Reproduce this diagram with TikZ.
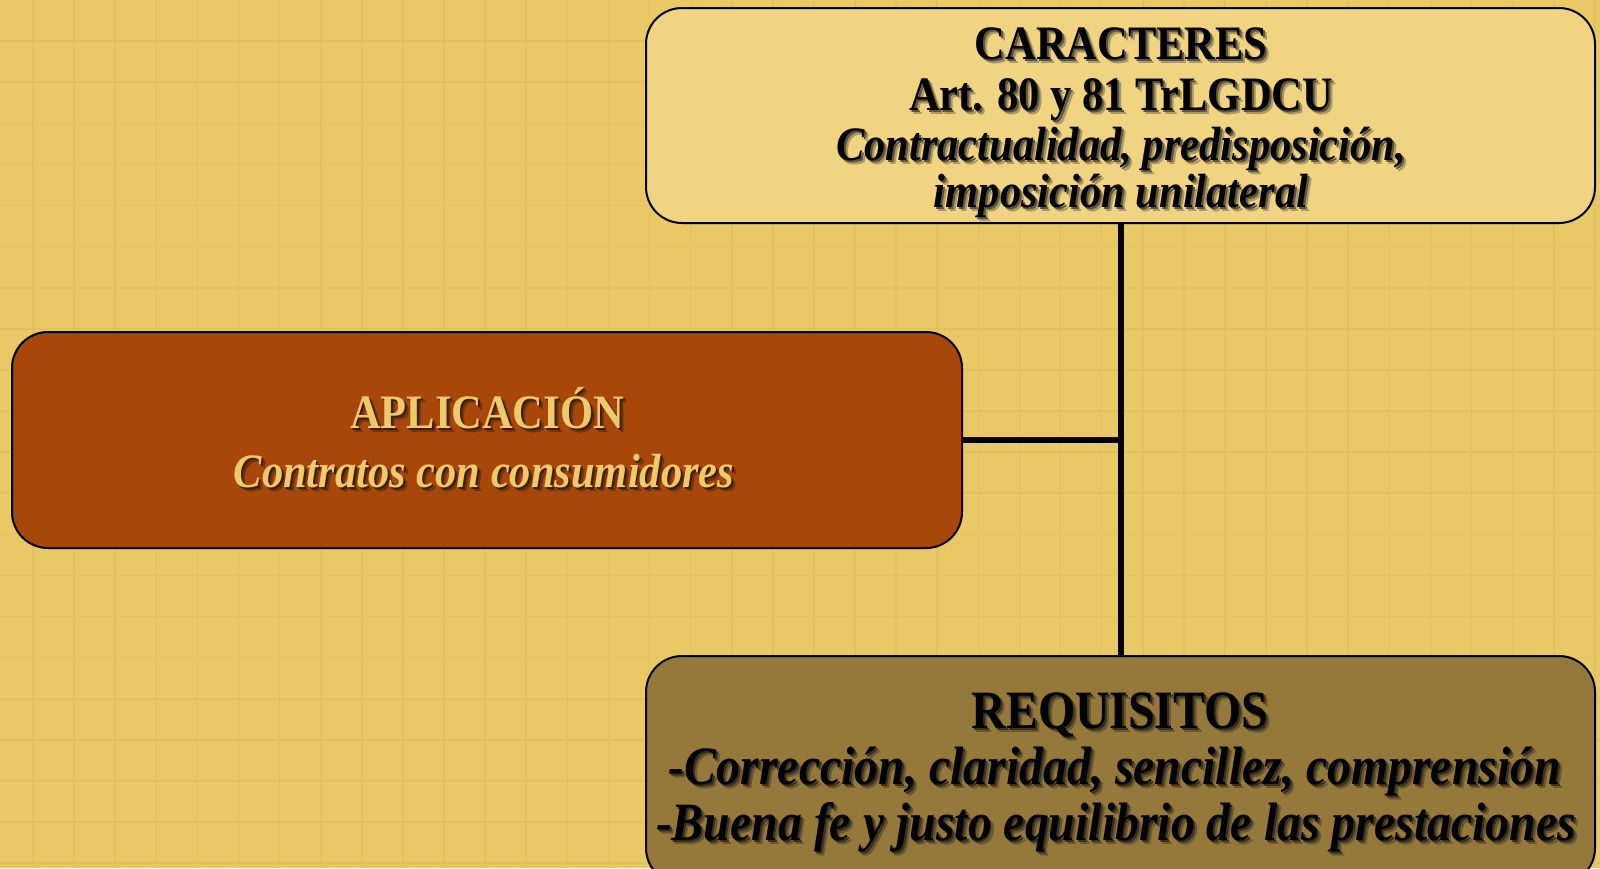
\documentclass[tikz,border=0pt]{standalone}
\usepackage{fontspec}
\setmainfont{Liberation Serif}
\newfontfamily\cnd[FakeStretch=0.885]{Liberation Serif}
\definecolor{bgc}{HTML}{E8C966}
\definecolor{gridc}{HTML}{E3C15C}
\definecolor{topc}{HTML}{F0D482}
\definecolor{appc}{HTML}{A8470A}
\definecolor{reqc}{HTML}{94793B}
\definecolor{goldtxt}{HTML}{EDCB6C}
\tikzset{
  box/.style={draw=black, line width=1pt, rounded corners=18pt, inner sep=0pt},
  conn/.style={draw=black, line width=3pt},
  txt/.style={anchor=base, inner sep=0pt},
  hfont/.style={font=\cnd\bfseries\fontsize{24}{25}\selectfont},
  hifont/.style={font=\cnd\bfseries\itshape\fontsize{24}{25}\selectfont},
  rfont/.style={font=\cnd\bfseries\fontsize{27}{28}\selectfont},
  rifont/.style={font=\cnd\bfseries\itshape\fontsize{27}{28}\selectfont}
}
% #1 base colour of the box, #2 text colour, #3 text
\newcommand{\shd}[3]{\leavevmode
  \rlap{\hspace{2pt}\raisebox{-2pt}{\textcolor{#1!72!black}{#3}}}%
  \rlap{\hspace{1pt}\raisebox{-1pt}{\textcolor{#1!40!black}{#3}}}%
  \textcolor{#2}{#3}}
\begin{document}
\begin{tikzpicture}[x=0.5pt,y=-0.5pt]
\useasboundingbox (0,0) rectangle (1600,868);
\clip (0,0) rectangle (1600,868);
\fill[bgc] (0,0) rectangle (1600,868);
\foreach \i in {0,...,38} \draw[gridc, line width=0.8pt] (33+41.1*\i,0) -- ++(0,868);
\foreach \j in {1,...,21} \draw[gridc, line width=0.8pt] (0,41.1*\j) -- ++(1600,0);

\node[box, fill=topc, minimum width=474.5pt, minimum height=107.5pt] (top) at (1120.5,115.5) {};
\node[box, fill=appc, minimum width=475pt, minimum height=108pt] (app) at (487,440) {};
\node[box, fill=reqc, minimum width=474.5pt, minimum height=114pt] (req) at (1120.5,770) {};

\draw[conn] (top.south) -- (req.north);
\draw[conn] (app.east) -- (app.east -| top.south);

\node[txt, hfont] (t1) at (1121,59) {\shd{topc}{black}{CARACTERES}};
\node[txt, hfont] (t2) at (1121,110) {\shd{topc}{black}{Art. 80 y 81 TrLGDCU}};
\node[txt, hifont] (t3) at (1121,160) {\shd{topc}{black}{Contractualidad, predisposición,}};
\node[txt, hifont] (t4) at (1121,207) {\shd{topc}{black}{imposición unilateral}};

\node[txt, hfont] (a1) at (487,428) {\shd{appc}{goldtxt}{APLICACIÓN}};
\node[txt, hifont] (a2) at (484,487) {\shd{appc}{goldtxt}{Contratos con consumidores}};

\node[txt, rfont] (r1) at (1120,728) {\shd{reqc}{black}{REQUISITOS}};
\node[txt, rifont] (r2) at (1115,784) {\shd{reqc}{black}{-Corrección, claridad, sencillez, comprensión}};
\node[txt, rifont] (r3) at (1116,840) {\shd{reqc}{black}{-Buena fe y justo equilibrio de las prestaciones}};
\end{tikzpicture}
\end{document}
